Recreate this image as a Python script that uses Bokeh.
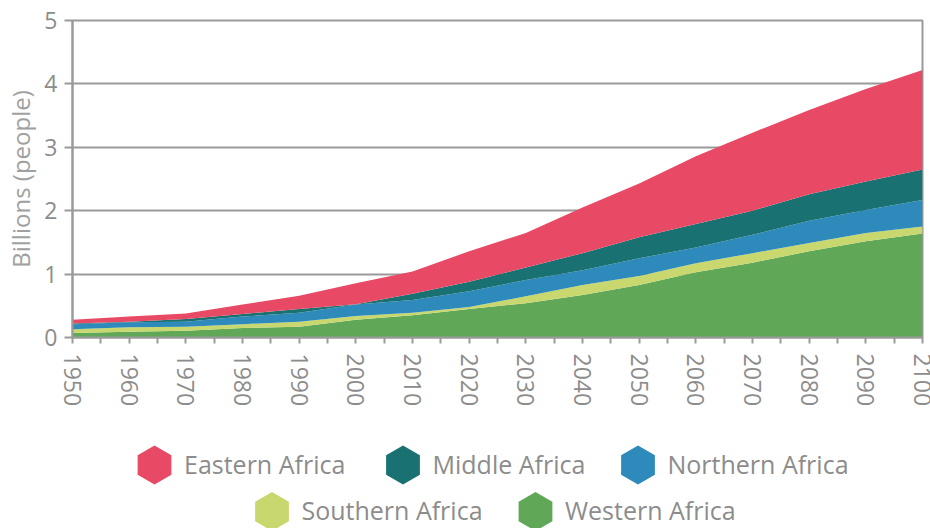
import numpy as np
from bokeh.plotting import figure
from bokeh.models import ColumnDataSource, Range1d, FixedTicker, NumeralTickFormatter
from bokeh.layouts import column
from bokeh.core.properties import value
from bokeh.embed import file_html
from bokeh.resources import INLINE

# ---------------- data (billions of people) ----------------
years = [1950, 1960, 1970, 1980, 1990, 2000, 2010, 2020,
         2030, 2040, 2050, 2060, 2070, 2080, 2090, 2100]
western = [0.07, 0.09, 0.105, 0.15, 0.17, 0.28, 0.35, 0.45,
           0.54, 0.67, 0.83, 1.03, 1.18, 1.36, 1.52, 1.64]
southern = [0.06, 0.07, 0.065, 0.06, 0.08, 0.06, 0.04, 0.03,
            0.11, 0.16, 0.14, 0.14, 0.15, 0.13, 0.13, 0.11]
northern = [0.08, 0.08, 0.08, 0.12, 0.14, 0.18, 0.20, 0.25,
            0.255, 0.23, 0.28, 0.25, 0.29, 0.35, 0.36, 0.42]
middle = [0.01, 0.01, 0.04, 0.04, 0.06, 0.005, 0.10, 0.15,
          0.20, 0.27, 0.33, 0.37, 0.38, 0.42, 0.45, 0.48]
eastern = [0.06, 0.08, 0.09, 0.15, 0.21, 0.33, 0.35, 0.48,
           0.545, 0.72, 0.85, 1.07, 1.23, 1.33, 1.46, 1.57]

series_names = ["Western Africa", "Southern Africa", "Northern Africa",
                "Middle Africa", "Eastern Africa"]
series_keys = ["western", "southern", "northern", "middle", "eastern"]
series_colors = ["#60a857", "#c8d86f", "#2e8aba", "#1a7172", "#e84a66"]

y_ticks = [0, 1, 2, 3, 4, 5]
x_major_ticks = list(range(1950, 2101, 10))
x_minor_ticks = list(range(1955, 2100, 10))

# ---------------- styles / layout ----------------
FONT = "Open Sans"
AXIS_GRAY = "#9a9a9a"
TEXT_GRAY = "#8c8c8c"
W = 930
MAIN_H = 420
LEG_H = 108
B_LEFT, B_RIGHT, B_TOP = 72, 8, 20

source = ColumnDataSource(dict(year=years, western=western, southern=southern,
                               northern=northern, middle=middle, eastern=eastern))

p = figure(width=W, height=MAIN_H, output_backend="svg", toolbar_location=None,
           x_range=Range1d(1950, 2100), y_range=Range1d(0, 5),
           min_border_left=B_LEFT, min_border_right=B_RIGHT, min_border_top=B_TOP,
           min_border_bottom=MAIN_H - 337)
p.background_fill_color = "white"
p.border_fill_color = "white"
p.outline_line_color = AXIS_GRAY
p.outline_line_width = 2

p.varea_stack(stackers=series_keys, x="year", color=series_colors, source=source)

# grid
p.xgrid.visible = False
p.ygrid.ticker = FixedTicker(ticks=y_ticks)
p.ygrid.grid_line_color = AXIS_GRAY
p.ygrid.grid_line_width = 2

# x axis
xa = p.xaxis[0]
xa.ticker = FixedTicker(ticks=x_major_ticks, minor_ticks=x_minor_ticks)
xa.formatter = NumeralTickFormatter(format="0")
xa.major_label_orientation = "vertical"
xa.axis_line_color = AXIS_GRAY
xa.axis_line_width = 2
xa.major_tick_line_color = AXIS_GRAY
xa.minor_tick_line_color = AXIS_GRAY
xa.major_tick_line_width = 2
xa.minor_tick_line_width = 2
xa.major_tick_out = 6
xa.major_tick_in = 0
xa.minor_tick_out = 6
xa.minor_tick_in = 0
xa.major_label_standoff = 10
xa.major_label_text_font = FONT
xa.major_label_text_font_size = "23px"
xa.major_label_text_color = TEXT_GRAY

# y axis
ya = p.yaxis[0]
ya.ticker = FixedTicker(ticks=y_ticks)
ya.axis_line_color = AXIS_GRAY
ya.axis_line_width = 2
ya.major_tick_line_color = AXIS_GRAY
ya.major_tick_line_width = 2
ya.major_tick_out = 8
ya.major_tick_in = 0
ya.minor_tick_line_color = None
ya.major_label_standoff = 7
ya.major_label_text_font = FONT
ya.major_label_text_font_size = "23px"
ya.major_label_text_color = TEXT_GRAY
ya.axis_label = "Billions (people)"
ya.axis_label_text_font = FONT
ya.axis_label_text_font_size = "24px"
ya.axis_label_text_font_style = "normal"
ya.axis_label_text_color = "#a0a0a0"
ya.axis_label_standoff = 4

# ---------------- legend (strip below, coordinates = page pixels) ----------------
leg = figure(width=W, height=LEG_H, output_backend="svg", toolbar_location=None,
             x_range=Range1d(B_LEFT, W - B_RIGHT),
             y_range=Range1d(MAIN_H + LEG_H, MAIN_H),
             x_axis_type=None, y_axis_type=None,
             min_border_left=B_LEFT, min_border_right=B_RIGHT,
             min_border_top=0, min_border_bottom=0)
leg.outline_line_color = None
leg.grid.visible = False
leg.background_fill_color = "white"
leg.border_fill_color = "white"

legend_order = ["Eastern Africa", "Middle Africa", "Northern Africa",
                "Southern Africa", "Western Africa"]
# layout: hexagon centres and text centre lines (page pixels)
hex_x = [154, 402.5, 637.5, 271.5, 535]
hex_y = [464.5, 464.5, 464.5, 511, 511]
text_mid = [463, 463, 463, 509, 509]
TEXT_GAP = 29.5
leg_colors = [series_colors[series_names.index(n)] for n in legend_order]
leg_src = ColumnDataSource(dict(x=hex_x, y=hex_y, c=leg_colors, t=legend_order,
                                tx=[x + TEXT_GAP for x in hex_x], ty=text_mid))
leg.scatter(x="x", y="y", marker="hex", size=39, angle=np.pi / 2,
            fill_color="c", line_color=None, source=leg_src)
leg.text(x="tx", y="ty", text="t", text_font=value(FONT), text_font_size="25px",
         text_color=TEXT_GRAY, text_baseline="middle", text_align="left",
         source=leg_src)

layout = column(p, leg, spacing=0)
open("out.html", "w").write(file_html(layout, INLINE))
